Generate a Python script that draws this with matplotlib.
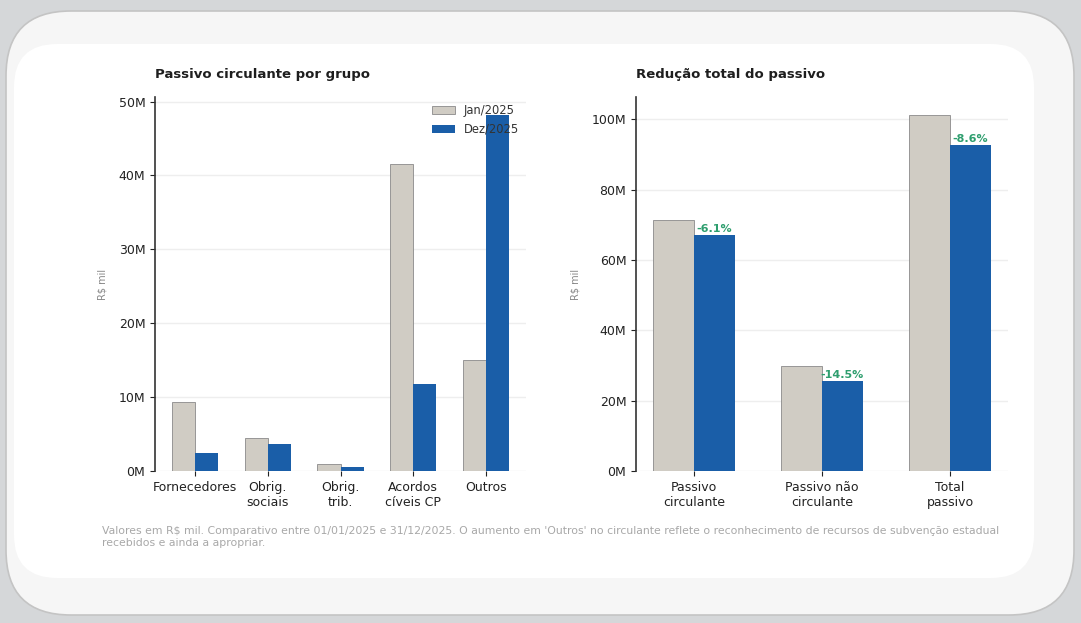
import matplotlib.pyplot as plt
from matplotlib.patches import FancyBboxPatch
from matplotlib.ticker import FuncFormatter
import numpy as np

# Passivo circulante por grupo (R$ milhões)
grupos = ['Fornecedores', 'Obrig.\nsociais', 'Obrig.\ntrib.', 'Acordos\ncíveis CP', 'Outros']
grupo_jan = [9.4, 4.4, 0.9, 41.6, 15.0]
grupo_dez = [2.5, 3.7, 0.5, 11.8, 48.2]

# Redução total do passivo (R$ milhões)
totais = ['Passivo\ncirculante', 'Passivo não\ncirculante', 'Total\npassivo']
total_jan = [71.3, 29.95, 101.25]
total_dez = [66.95, 25.6, 92.55]

COR_JAN = '#d0ccc4'
COR_DEZ = '#1a5ea8'
COR_VAR = '#2e9e6e'

W, H = 1081, 623
fig = plt.figure(figsize=(W / 100, H / 100), dpi=100)
fig.patch.set_facecolor('#d5d7d9')

# card de fundo
card = FancyBboxPatch((6 / W, 8 / H), 1068 / W, 604 / H,
                      boxstyle='round,pad=0,rounding_size=0.06',
                      transform=fig.transFigure, facecolor='#f6f6f6',
                      edgecolor='#c4c4c4', linewidth=1.2, mutation_aspect=W / H,
                      zorder=-10)
fig.patches.append(card)
painel = FancyBboxPatch((14 / W, 45 / H), 1020 / W, 534 / H,
                        boxstyle='round,pad=0,rounding_size=0.04',
                        transform=fig.transFigure, facecolor='white',
                        edgecolor='none', mutation_aspect=W / H, zorder=-9)
fig.patches.append(painel)

fmt = FuncFormatter(lambda v, p: f'{v:.0f}M')


def estilo(ax, titulo):
    ax.set_facecolor('white')
    ax.set_title(titulo, loc='left', fontsize=9.5, fontweight='bold', pad=14, color='#1e1e1e')
    ax.spines[['top', 'right', 'bottom']].set_visible(False)
    ax.spines['left'].set_color('#333333')
    ax.spines['left'].set_linewidth(1.2)
    ax.yaxis.grid(True, color='#eeeeee', linewidth=1)
    ax.set_axisbelow(True)
    ax.yaxis.set_major_formatter(fmt)
    ax.tick_params(axis='both', labelsize=9, colors='#222222', length=3.5)
    ax.set_ylabel('R$ mil', fontsize=7, color='#888888', labelpad=8)


# barras por grupo
ax1 = fig.add_axes([155 / W, 1 - 471 / H, 371 / W, 374 / H])
x = np.arange(len(grupos))
w = 0.32
ax1.bar(x - w / 2, grupo_jan, w, color=COR_JAN, edgecolor='#8a8a8a', linewidth=0.6, label='Jan/2025')
ax1.bar(x + w / 2, grupo_dez, w, color=COR_DEZ, label='Dez/2025')
ax1.set_xticks(x, grupos)
ax1.set_ylim(0, max(grupo_jan + grupo_dez) * 1.05)
ax1.set_yticks(np.arange(0, 51, 10))
estilo(ax1, 'Passivo circulante por grupo')
ax1.legend(loc='upper right', frameon=False, fontsize=8.3, handlelength=2.0,
           borderaxespad=0.2, labelcolor='#333333')

# barras de totais com variação
ax2 = fig.add_axes([636 / W, 1 - 471 / H, 372 / W, 374 / H])
x2 = np.arange(len(totais))
ax2.bar(x2 - w / 2, total_jan, w, color=COR_JAN, edgecolor='#8a8a8a', linewidth=0.6)
ax2.bar(x2 + w / 2, total_dez, w, color=COR_DEZ)
for xi, a, b in zip(x2, total_jan, total_dez):
    var = (b / a - 1) * 100
    ax2.text(xi + w / 2, b + 0.4, f'{var:.1f}%', ha='center', va='bottom',
             fontsize=8, fontweight='bold', color=COR_VAR)
ax2.set_xticks(x2, totais)
ax2.set_ylim(0, max(total_jan + total_dez) * 1.05)
ax2.set_yticks(np.arange(0, 101, 20))
estilo(ax2, 'Redução total do passivo')

fig.text(102 / W, 1 - 537 / H,
         "Valores em R$ mil. Comparativo entre 01/01/2025 e 31/12/2025. O aumento em 'Outros' no circulante "
         "reflete o reconhecimento de recursos de subvenção estadual\nrecebidos e ainda a apropriar.",
         fontsize=7.8, color='#a8a8a8', va='center', linespacing=1.2)

fig.savefig('out.png', dpi=100, facecolor=fig.get_facecolor())
